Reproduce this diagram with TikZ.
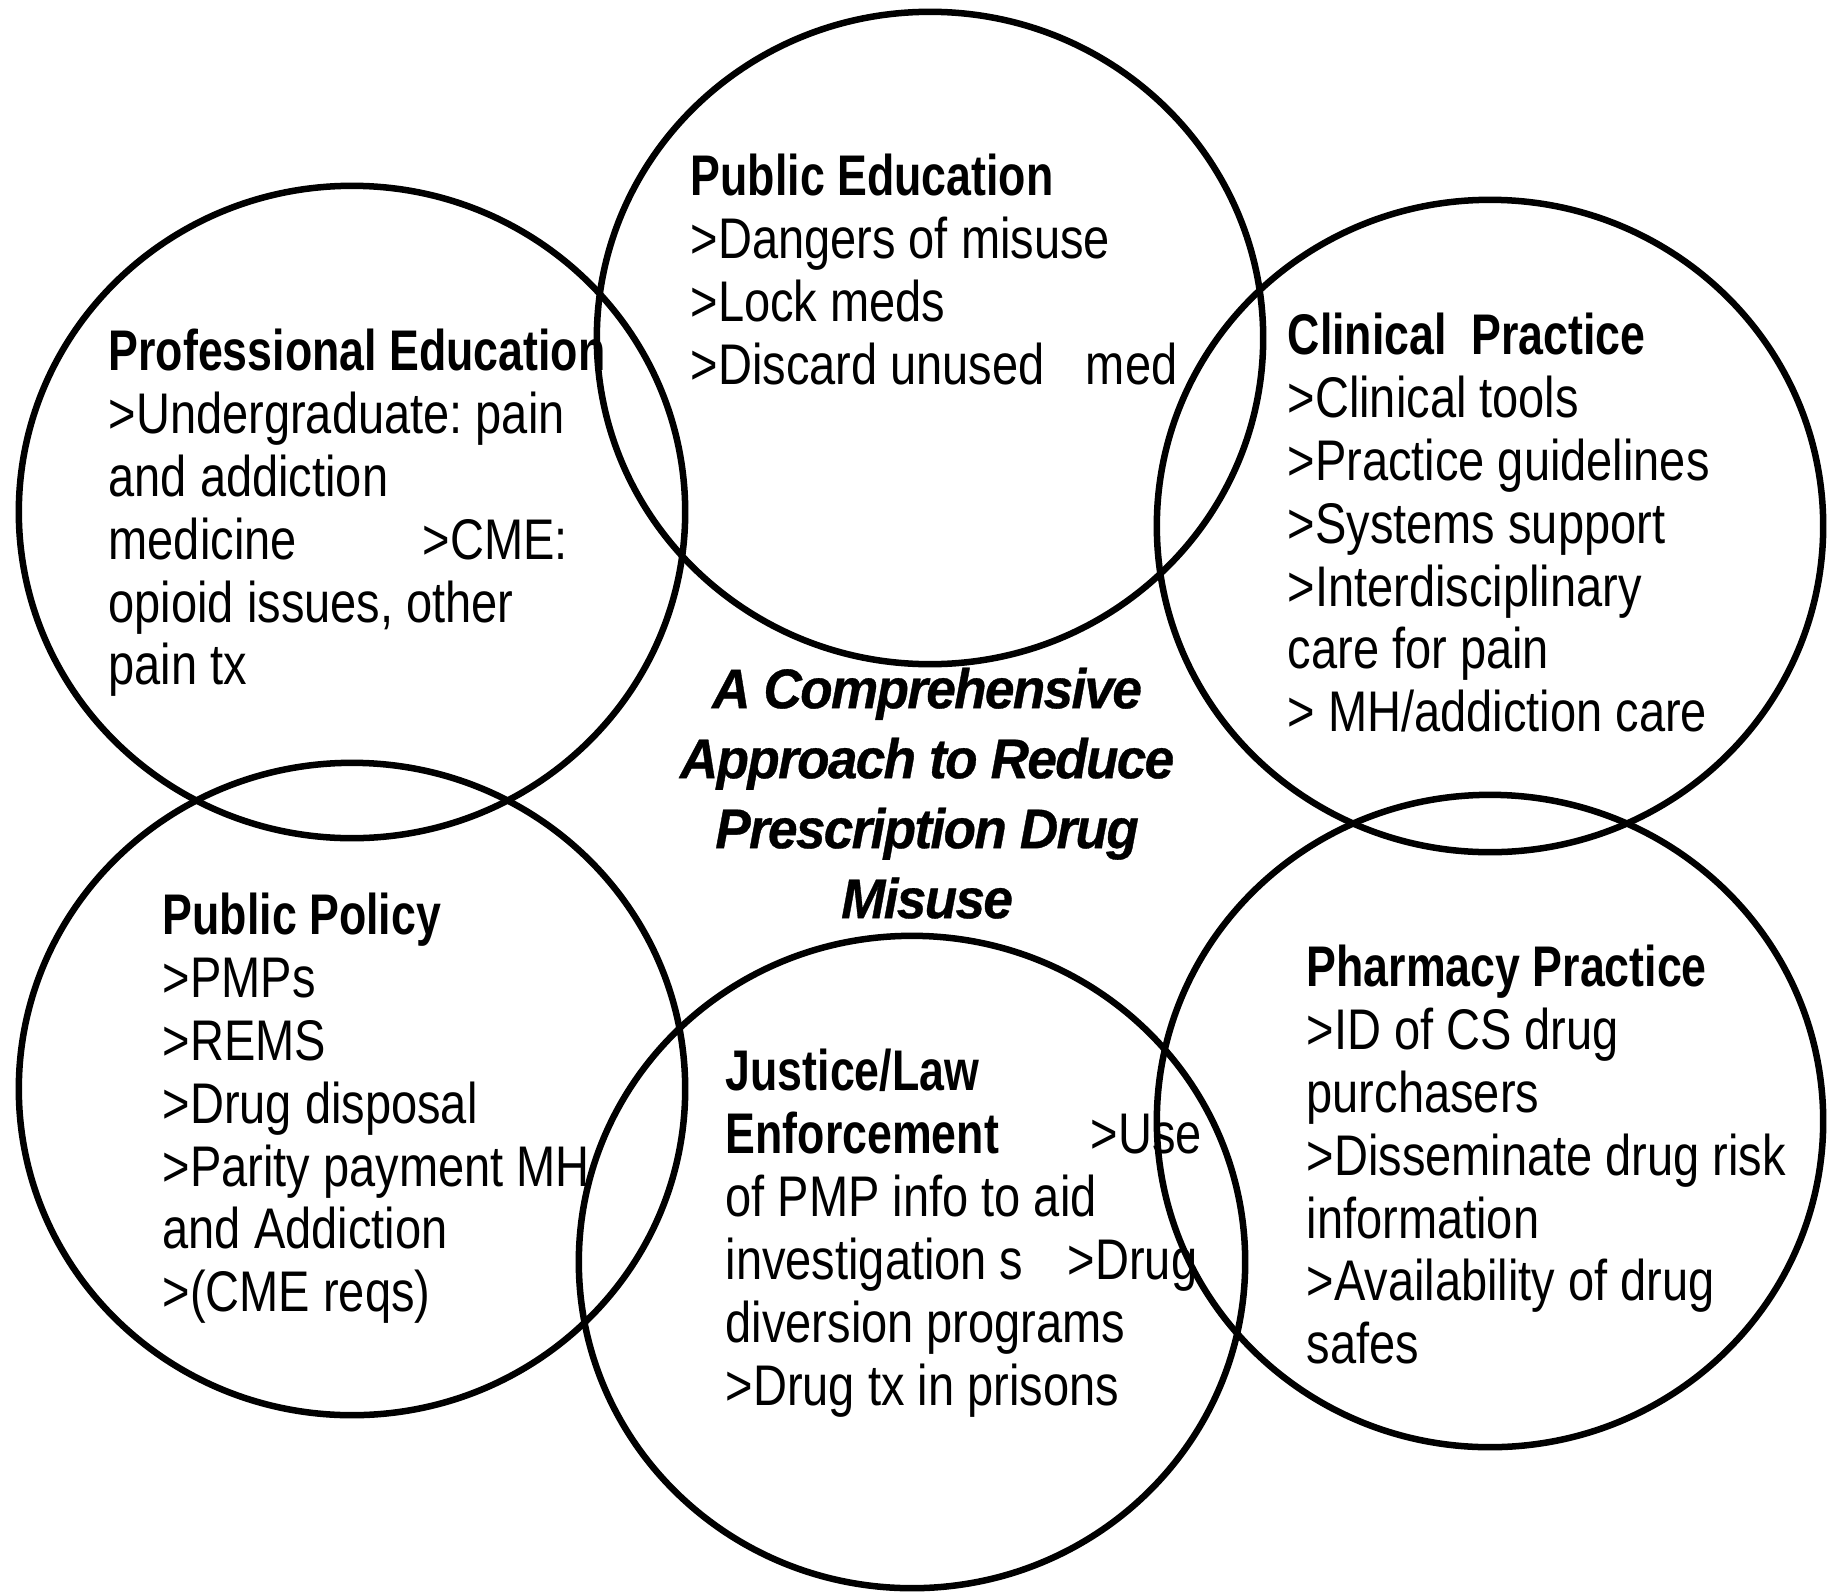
\documentclass[tikz,border=0pt]{standalone}
\usepackage{fontspec}
\setmainfont{Liberation Sans}[FakeStretch=0.82, BoldFeatures={FakeStretch=0.78}]
\newfontfamily\titlefont{Liberation Sans}[FakeStretch=0.95, LetterSpace=-3, FakeBold=0.6]
\frenchspacing

\begin{document}
\begin{tikzpicture}[x=0.01cm,y=-0.01cm,
  ring/.style={line width=1.85pt,black},
  blurb/.style={anchor=north west,inner sep=0pt,align=left,font=\fontsize{16.3}{17.9}\selectfont},
  headline/.style={anchor=north,inner sep=0pt,align=center,font=\titlefont\bfseries\itshape\fontsize{15.9}{19.9}\selectfont}]
\useasboundingbox (0,0) rectangle (1828,1591);
\coordinate (pubedu) at (930,338);
\coordinate (profedu) at (352,512);
\coordinate (clinic) at (1490,526);
\coordinate (policy) at (352,1089);
\coordinate (justice) at (912,1262);
\coordinate (pharma) at (1490,1121);
\foreach \c in {pubedu,profedu,clinic,policy,justice,pharma}
  \draw[ring] (\c) ellipse [x radius=3.33cm, y radius=3.26cm];
\node[blurb] (pubedutxt) at (690,153) {\textbf{Public Education}\\>Dangers of misuse\\>Lock meds\\\makebox[3.95cm][l]{>Discard unused}med};
\node[blurb] (profedutxt) at (108,328) {\textbf{Professional Education}\\>Undergraduate: pain\\and addiction\\\makebox[3.14cm][l]{medicine}>CME:\\opioid issues, other\\pain tx};
\node[blurb] (clinictxt) at (1287,312) {\textbf{Clinical~~Practice}\\>Clinical tools\\>Practice guidelines\\>Systems support\\>Interdisciplinary\\care for pain\\> MH/addiction care};
\node[blurb] (policytxt) at (162,892) {\textbf{Public Policy}\\>PMPs\\>REMS\\>Drug disposal\\>Parity payment MH\\and Addiction\\>(CME reqs)};
\node[blurb] (justicetxt) at (725,1048) {\textbf{Justice/Law}\\\makebox[3.65cm][l]{\textbf{Enforcement}}>Use\\of PMP info to aid\\\makebox[3.42cm][l]{investigation s}>Drug\\diversion programs\\>Drug tx in prisons};
\node[blurb] (pharmatxt) at (1306,944) {\textbf{Pharmacy Practice}\\>ID of CS drug\\purchasers\\>Disseminate drug risk\\information\\>Availability of drug\\safes};
\node[headline] (title) at (927,667) {A Comprehensive\\Approach to Reduce\\Prescription Drug\\Misuse};
\end{tikzpicture}
\end{document}
